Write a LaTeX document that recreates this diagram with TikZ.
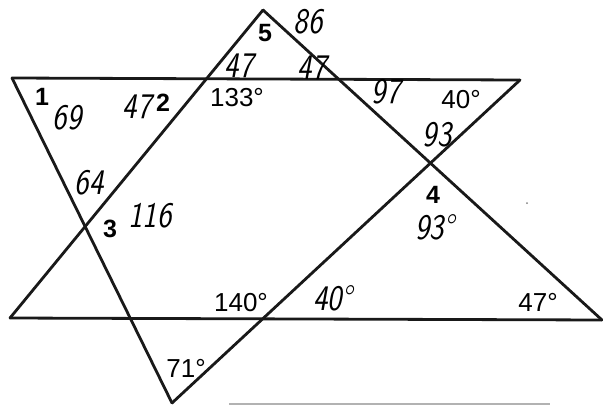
\documentclass[tikz,border=0pt]{standalone}
\usepackage{fontspec}
\setmainfont{Liberation Sans}
\begin{document}
\begin{tikzpicture}[x=1pt,y=-1pt,
  seg/.style={line width=2.8pt,line cap=round,line join=round,black!90},
  lab/.style={font=\fontsize{26}{26}\selectfont,inner sep=0pt},
  num/.style={font=\fontsize{25}{25}\selectfont\bfseries,inner sep=0pt},
  hand/.style={font=\fontsize{36}{36}\selectfont\sffamily\itshape,inner sep=0pt,xscale=0.85}]
\fill[white] (0,0) rectangle (603,405);
\useasboundingbox (0,0) rectangle (603,405);
% vertices
\coordinate (TL) at (12,78);
\coordinate (TR) at (520,80);
\coordinate (AP) at (263,10);
\coordinate (BV) at (172,403);
\coordinate (BL) at (10,318);
\coordinate (BR) at (602,320);
\coordinate (G1) at (229,404);
\coordinate (G2) at (550,404);
% lines
\draw[seg] (TL) -- (TR);
\draw[seg] (BL) -- (BR);
\draw[seg] (TL) -- (BV);
\draw[seg] (AP) -- (BL);
\draw[seg] (AP) -- (BR);
\draw[seg] (TR) -- (BV);
\draw[gray!60,line width=1.2pt] (G1) -- (G2);
% printed labels
\node[num] (n1) at (42,97) {1};
\node[num] (n2) at (163,103) {2};
\node[num] (n3) at (110,229) {3};
\node[num] (n4) at (433,195) {4};
\node[num] (n5) at (265,33) {5};
\node[lab] (a133) at (237,98) {133°};
\node[lab] (a40) at (461,100) {40°};
\node[lab] (a140) at (241,303) {140°};
\node[lab] (a71) at (186,368) {71°};
\node[lab] (a47) at (538,302) {47°};
% handwritten
\node[hand] (h86) at (308,22) {86};
\node[hand] (h47a) at (239,66) {47};
\node[hand] (h47b) at (312,68) {47};
\node[hand] (h97) at (386,92) {97};
\node[hand] (h93a) at (437,135) {93};
\node[hand] (h93b) at (435,227) {93°};
\node[hand] (h69) at (67,118) {69};
\node[hand] (h47c) at (137,107) {47};
\node[hand] (h64) at (89,183) {64};
\node[hand] (h116) at (150,216) {116};
\node[hand] (h40) at (333,298) {40°};
\fill[gray] (527,203) circle (1pt);
\end{tikzpicture}
\end{document}
